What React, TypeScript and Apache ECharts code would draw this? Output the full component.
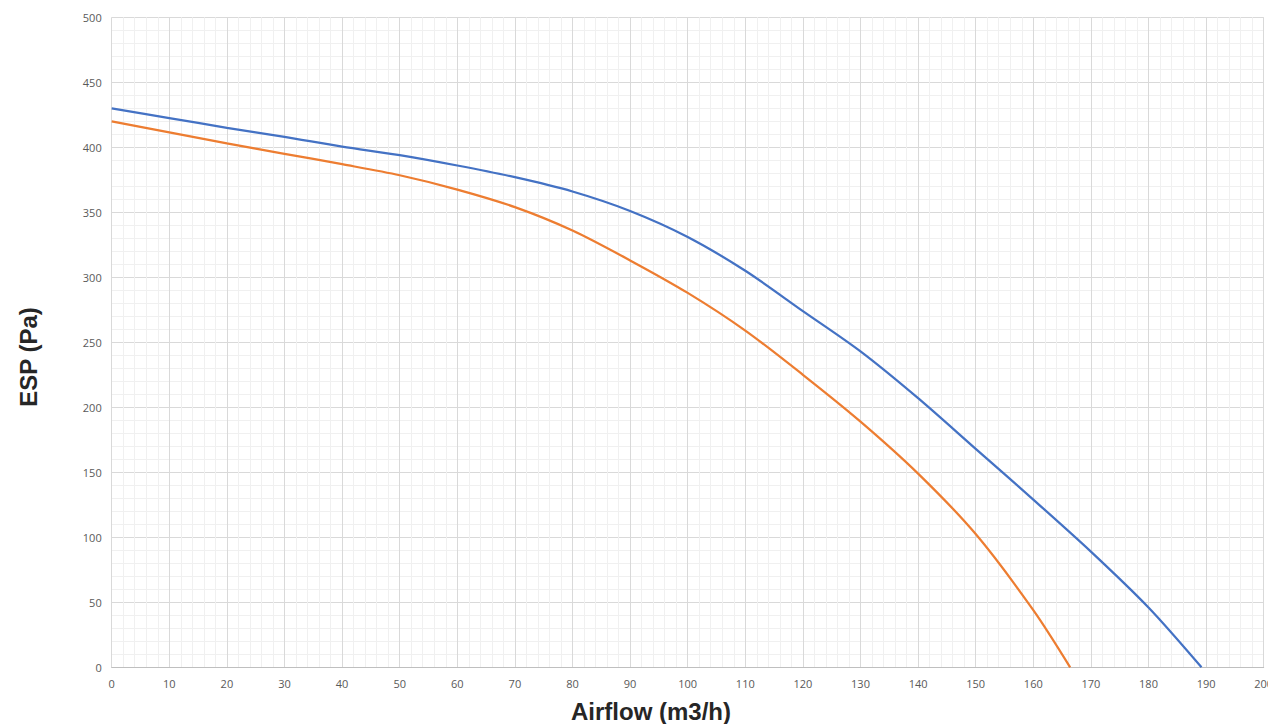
import React, { useEffect, useRef } from "react";
import * as echarts from "echarts";

const blueX = [0, 10, 20, 30, 40, 50, 60, 70, 80, 90, 100, 110, 120, 130, 140, 150, 160, 170, 180, 189.2];
const blueY = [430, 422.5, 415, 408, 400.5, 394, 386, 377, 366, 351, 331, 305, 274, 243, 207, 168, 129, 89, 46, 0];
const orangeX = [0, 10, 20, 30, 40, 50, 60, 70, 80, 90, 100, 110, 120, 130, 140, 150, 160, 166.4];
const orangeY = [420, 411.5, 403, 395, 387, 378.5, 367.5, 354, 336, 313, 288, 259, 225, 189, 149, 102.5, 44, 0];
const xTitle = "Airflow (m3/h)";
const yTitle = "ESP (Pa)";

export default function App() {
  const ref = useRef<HTMLDivElement>(null);
  useEffect(() => {
    const chart = echarts.init(ref.current!, null, { renderer: "svg" });
    const labelStyle = { color: "#595959", fontSize: 11, fontFamily: "Open Sans" };
    chart.setOption({
      animation: false,
      backgroundColor: "#ffffff",
      grid: {
        left: 111.7,
        right: 4.3,
        top: 17.3,
        bottom: 56.7,
        containLabel: false,
        outerBoundsMode: "none",
      },
      xAxis: {
        type: "value",
        min: 0,
        max: 200,
        interval: 10,
        axisLine: { show: true, lineStyle: { color: "#bfbfbf", width: 1 } },
        axisTick: { show: false },
        axisLabel: { ...labelStyle, margin: 11 },
        splitLine: { show: true, lineStyle: { color: "#d9d9d9", width: 1 } },
        minorTick: { show: false, splitNumber: 5 },
        minorSplitLine: { show: true, lineStyle: { color: "#f0f0f0", width: 1 } },
      },
      yAxis: {
        type: "value",
        min: 0,
        max: 500,
        interval: 50,
        axisLine: { show: false },
        axisTick: { show: false },
        axisLabel: { ...labelStyle, margin: 10 },
        splitLine: { show: true, lineStyle: { color: "#d9d9d9", width: 1 } },
        minorTick: { show: false, splitNumber: 5 },
        minorSplitLine: { show: true, lineStyle: { color: "#f0f0f0", width: 1 } },
      },
      series: [
        {
          type: "line",
          name: "blue",
          data: blueX.map((x, i) => [x, blueY[i]]),
          smooth: 0.3,
          showSymbol: false,
          lineStyle: { color: "#4472C4", width: 2.25 },
          z: 3,
        },
        {
          type: "line",
          name: "orange",
          data: orangeX.map((x, i) => [x, orangeY[i]]),
          smooth: 0.3,
          showSymbol: false,
          lineStyle: { color: "#ED7D31", width: 2.25 },
          z: 3,
        },
      ],
      graphic: [
        {
          type: "text",
          x: 651,
          y: 711,
          style: {
            text: xTitle,
            fill: "#262626",
            font: "bold 24px 'Liberation Sans'",
            align: "center",
            verticalAlign: "middle",
          },
        },
        {
          type: "text",
          x: 28,
          y: 357,
          rotation: Math.PI / 2,
          style: {
            text: yTitle,
            fill: "#262626",
            font: "bold 24px 'Liberation Sans'",
            align: "center",
            verticalAlign: "middle",
          },
        },
      ],
    });
    return () => chart.dispose();
  }, []);
  return (
    <div
      ref={ref}
      style={{ position: "fixed", left: 0, top: 0, width: 1268, height: 724, background: "#fff" }}
    />
  );
}
